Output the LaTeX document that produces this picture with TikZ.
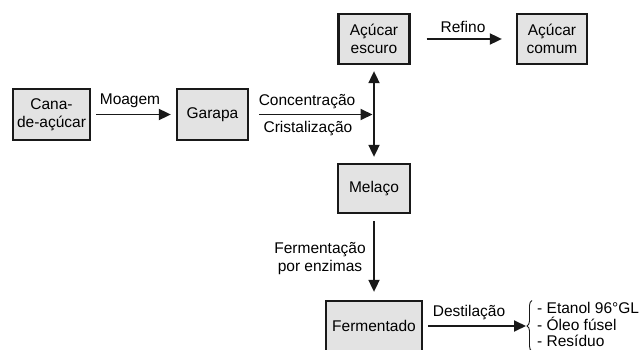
\documentclass[tikz,border=0pt]{standalone}
\usepackage{fontspec}
\setmainfont{Liberation Sans}
\usetikzlibrary{arrows.meta,decorations.pathreplacing}

\begin{document}
\begin{tikzpicture}[x=1pt,y=-1pt,font=\fontsize{15.5}{18.5}\selectfont,
  caixa/.style={draw=black!90,line width=2.3pt,fill=black!11,inner sep=0pt,align=center,text=black},
  seta/.style={draw=black!90,line width=1.8pt,-{Triangle[length=12pt,width=11pt]}},
  rotulo/.style={inner sep=0pt,text=black}]
\useasboundingbox (0,0) rectangle (642,350);
\node[caixa,minimum width=77pt,minimum height=51pt] (cana) at (51.5,114.5) {Cana-\\de-açúcar};
\node[caixa,minimum width=71pt,minimum height=51pt] (garapa) at (212.5,114.5) {Garapa};
\node[caixa,minimum width=71pt,minimum height=50pt] (escuro) at (374,39) {Açúcar\\escuro};
\node[caixa,minimum width=70pt,minimum height=50pt] (comum) at (552,39) {Açúcar\\comum};
\node[caixa,minimum width=72pt,minimum height=49pt] (melaco) at (374,188.5) {Melaço};
\node[caixa,minimum width=96pt,minimum height=50pt] (ferm) at (374,326) {Fermentado};
\coordinate (jn) at (374,114.5);
\coordinate (chave) at (526,326);
\node[rotulo,anchor=base] (moagem) at (130,105) {Moagem};
\node[rotulo,anchor=base] (conc) at (307,106) {Concentração};
\node[rotulo,anchor=base] (crist) at (308,132) {Cristalização};
\node[rotulo,anchor=base] (refino) at (463,33) {Refino};
\node[rotulo,anchor=north,align=center,font=\fontsize{15.5}{18}\selectfont] (enzimas) at (320,242) {Fermentação\\por enzimas};
\node[rotulo,anchor=base] (destil) at (469,316) {Destilação};
\node[rotulo,anchor=west,align=left,font=\fontsize{15.5}{16.5}\selectfont] (saidas) at (537,324.9) {- Etanol 96°GL\\- Óleo fúsel\\- Resíduo};
\draw[seta,shorten <=5pt,shorten >=5pt] (cana) -- (garapa);
\draw[seta,shorten <=10pt,shorten >=1.5pt] (garapa) -- (jn);
\draw[seta,{Triangle[length=12pt,width=11pt]}-{Triangle[length=12pt,width=11pt]},shorten <=6pt,shorten >=6pt] (escuro) -- (melaco);
\draw[seta,shorten <=16pt,shorten >=14pt] (escuro) -- (comum);
\draw[seta,shorten <=7pt,shorten >=8pt] (melaco) -- (ferm);
\draw[seta,shorten <=5pt] (ferm) -- (chave);
\draw[draw=black!90,line width=0.9pt,decorate,decoration={brace,amplitude=5pt}] ([xshift=-5pt,yshift=-4pt]saidas.south west) -- ([xshift=-5pt,yshift=2pt]saidas.north west);
\end{tikzpicture}
\end{document}
